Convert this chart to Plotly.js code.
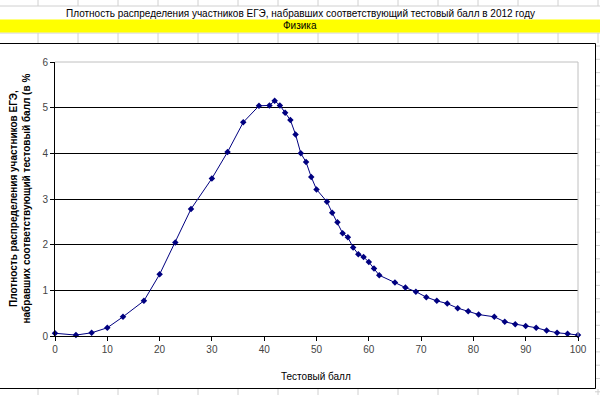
<!DOCTYPE html>
<html>
<head>
<meta charset="utf-8">
<script src="https://cdn.plot.ly/plotly-3.0.1.min.js"></script>
<style>html,body{margin:0;padding:0;background:#fff;}#chart{width:600px;height:395px;}</style>
</head>
<body>
<div id="chart"></div>
<script>
// ---- data ----
const scores = [0,4,7,10,13,17,20,23,26,30,33,36,39,41,42,43,44,45,46,47,48,49,50,52,53,54,55,56,57,58,59,60,61,62,65,67,69,71,73,75,77,79,81,84,86,88,90,92,94,96,98,100];
const density = [0.06,0.02,0.07,0.18,0.42,0.77,1.35,2.05,2.78,3.45,4.03,4.68,5.04,5.05,5.15,5.05,4.89,4.73,4.41,4.0,3.81,3.48,3.21,2.94,2.70,2.49,2.25,2.16,1.94,1.79,1.73,1.62,1.48,1.33,1.17,1.06,0.97,0.85,0.77,0.71,0.61,0.54,0.47,0.42,0.31,0.26,0.22,0.18,0.12,0.07,0.05,0.02];
const xTicks = [0,10,20,30,40,50,60,70,80,90,100];
const yTicks = [0,1,2,3,4,5,6];
const titleText = "Плотность распределения участников ЕГЭ, набравших соответствующий тестовый балл в 2012 году";
const subjectText = "Физика";
const xTitle = "Тестовый балл";
const yTitle = "Плотность распределения участников ЕГЭ,<br>набравших соответствующий тестовый балл (в %";

// ---- geometry helpers (pixel -> paper) ----
const L = 55, R = 578, T = 62, B = 336;
const px = x => (x - L) / (R - L);
const py = y => (B - y) / (B - T);
const FONT = "Liberation Sans, Arial, sans-serif";
const GRID = "#d0d0d0";

const shapes = [];
// spreadsheet grid (decoration)
for (let cx = 38; cx <= 600; cx += 40) {
  [[0, 6], [33, 43], [389, 395]].forEach(seg => {
    shapes.push({type: "line", xref: "paper", yref: "paper", layer: "below",
      x0: px(cx), x1: px(cx), y0: py(seg[0]), y1: py(seg[1]), line: {color: GRID, width: 1}});
  });
}
[6, 33].forEach(ry => shapes.push({type: "line", xref: "paper", yref: "paper", layer: "below",
  x0: px(0), x1: px(600), y0: py(ry), y1: py(ry), line: {color: GRID, width: 1}}));
for (let ry = 46; ry <= 395; ry += 13.3) {
  shapes.push({type: "line", xref: "paper", yref: "paper", layer: "below",
    x0: px(595), x1: px(600), y0: py(ry), y1: py(ry), line: {color: GRID, width: 1}});
}
// yellow band
shapes.push({type: "rect", xref: "paper", yref: "paper", layer: "below",
  x0: px(0), x1: px(600), y0: py(19.5), y1: py(32.5), fillcolor: "#ffff00", line: {width: 0}});
// chart area
shapes.push({type: "rect", xref: "paper", yref: "paper", layer: "below",
  x0: px(-1), x1: px(595.5), y0: py(43.5), y1: py(388.5), fillcolor: "#ffffff", line: {color: "#000", width: 1}});
// plot area border (top & right, gray)
shapes.push({type: "line", xref: "paper", yref: "paper", layer: "above",
  x0: 0, x1: 1, y0: 1, y1: 1, line: {color: "#c0c0c0", width: 1}});
shapes.push({type: "line", xref: "paper", yref: "paper", layer: "above",
  x0: 1, x1: 1, y0: 0, y1: 1, line: {color: "#c0c0c0", width: 1}});

const annotations = [
  {text: titleText, xref: "paper", yref: "paper", x: px(300), y: py(13), showarrow: false,
   xanchor: "center", yanchor: "middle", font: {family: FONT, size: 10, color: "#000"}},
  {text: subjectText, xref: "paper", yref: "paper", x: px(300), y: py(26), showarrow: false,
   xanchor: "center", yanchor: "middle", font: {family: FONT, size: 10, color: "#000"}},
  {text: xTitle, xref: "paper", yref: "paper", x: px(316), y: py(376), showarrow: false,
   xanchor: "center", yanchor: "middle", font: {family: FONT, size: 10, color: "#000"}},
  {text: "<b>" + yTitle.replace("<br>", "</b><br><b>") + "</b>", xref: "paper", yref: "paper",
   x: px(19.5), y: py(199), showarrow: false, textangle: -90,
   xanchor: "center", yanchor: "middle", font: {family: FONT, size: 10, color: "#000"}}
];

const trace = {
  x: scores, y: density, type: "scatter", mode: "lines+markers", cliponaxis: false,
  line: {color: "#000080", width: 1},
  marker: {symbol: "diamond", size: 5, color: "#000080"},
  hoverinfo: "x+y"
};

const layout = {
  width: 600, height: 395,
  margin: {l: L, r: 600 - R, t: T, b: 395 - B, pad: 0},
  paper_bgcolor: "#ffffff", plot_bgcolor: "#ffffff",
  showlegend: false,
  xaxis: {range: [0, 100], tickvals: xTicks, ticktext: xTicks.map(String), ticks: "outside", ticklen: 4,
    tickcolor: "#000", showline: true, linecolor: "#000", linewidth: 1, showgrid: false, zeroline: false,
    tickfont: {family: FONT, size: 10, color: "#444"}},
  yaxis: {range: [0, 6], tickvals: yTicks, ticktext: yTicks.map(String), ticks: "outside", ticklen: 4,
    tickcolor: "#000", showline: true, linecolor: "#000", linewidth: 1, showgrid: true,
    gridcolor: "#000", gridwidth: 1, zeroline: false,
    tickfont: {family: FONT, size: 10, color: "#444"}},
  shapes: shapes, annotations: annotations
};

Plotly.newPlot("chart", [trace], layout, {displayModeBar: false, staticPlot: true});
</script>
</body>
</html>
